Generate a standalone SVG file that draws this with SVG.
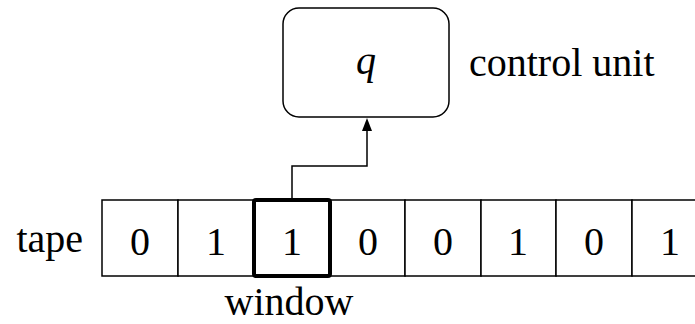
<svg xmlns="http://www.w3.org/2000/svg" width="695" height="324" viewBox="0 0 695 324">
  <style>
    .t { font-size: 40px; fill: #000; }
    .cell { fill: #fff; stroke: #000; stroke-width: 1.5; }
    .mid { text-anchor: middle; }
    .wire { fill: none; stroke: #000; stroke-width: 1.5; }
  </style>
  <defs>
    <marker id="head" viewBox="0 0 10 13" refX="5" refY="1" markerWidth="10" markerHeight="13" markerUnits="userSpaceOnUse" orient="auto">
      <path d="M0,13 L5,0 L10,13 Z" transform="rotate(90 5 6.5)" fill="#000"/>
    </marker>
  </defs>

  <g font-family="'Liberation Serif', 'DejaVu Serif', serif">
    <!-- control unit -->
    <g id="control">
      <rect x="283" y="8" width="166" height="109" rx="16" ry="16" fill="#fff" stroke="#000" stroke-width="1.5"/>
      <text x="366" y="74" class="t mid" font-style="italic">q</text>
      <text x="469" y="76" class="t">control unit</text>
    </g>

    <!-- tape -->
    <g id="tape">
      <text x="83" y="252" class="t" text-anchor="end">tape</text>
      <rect class="cell" x="102" y="200" width="76" height="76"/>
      <rect class="cell" x="178" y="200" width="76" height="76"/>
      <rect class="cell" x="330" y="200" width="75" height="76"/>
      <rect class="cell" x="405" y="200" width="76" height="76"/>
      <rect class="cell" x="481" y="200" width="75" height="76"/>
      <rect class="cell" x="556" y="200" width="76" height="76"/>
      <rect class="cell" x="632" y="200" width="76" height="76"/>
      <text x="140" y="255" class="t mid">0</text>
      <text x="216" y="255" class="t mid">1</text>
      <text x="368" y="255" class="t mid">0</text>
      <text x="443" y="255" class="t mid">0</text>
      <text x="518" y="255" class="t mid">1</text>
      <text x="594" y="255" class="t mid">0</text>
      <text x="670" y="255" class="t mid">1</text>
    </g>

    <!-- read window -->
    <g id="window">
      <rect x="254" y="200" width="76" height="76" rx="2" fill="#fff" stroke="#000" stroke-width="4"/>
      <text x="292" y="255" class="t mid">1</text>
      <text x="289" y="315" class="t mid">window</text>
    </g>
  </g>

  <!-- connectors -->
  <g id="connectors">
    <path class="wire" d="M292,198 V166 H367 V131"/>
    <path d="M362,131 L367,118 L372,131 Z" fill="#000"/>
  </g>
</svg>
